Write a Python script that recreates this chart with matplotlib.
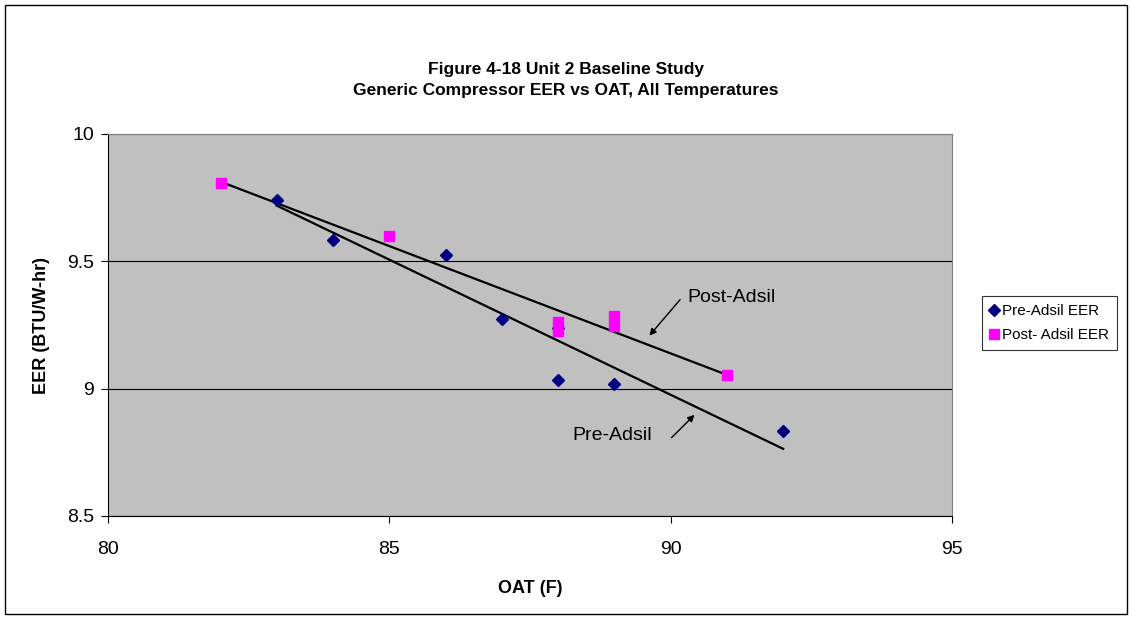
import numpy as np
import matplotlib
matplotlib.use('Agg')
import matplotlib.pyplot as plt
from matplotlib.patches import Rectangle

plt.rcParams['font.family'] = ['Liberation Sans', 'DejaVu Sans']

# Pre-Adsil data
pre_oat = [83, 84, 86, 87, 88, 88, 89, 92]
pre_eer = [9.74, 9.585, 9.523, 9.273, 9.035, 9.24, 9.017, 8.835]

# Post-Adsil data
post_oat = [82, 85, 88, 88, 89, 89, 91]
post_eer = [9.808, 9.60, 9.26, 9.228, 9.287, 9.248, 9.055]

xticks = [80, 85, 90, 95]
yticks = [8.5, 9, 9.5, 10]

fig = plt.figure(figsize=(11.32, 6.19), dpi=100)
ax = fig.add_axes([108/1132, 1-516/619, (952-108)/1132, (516-134)/619])
ax.set_facecolor('#C0C0C0')

# trend lines (linear fit over each series' range)
for xs, ys in [(pre_oat, pre_eer), (post_oat, post_eer)]:
    k, b = np.polyfit(xs, ys, 1)
    xx = np.array([min(xs), max(xs)])
    ax.plot(xx, k * xx + b, color='black', lw=1.6, zorder=3)

ax.plot(pre_oat, pre_eer, 'D', color='#000080', markersize=6.5, ls='none',
        label='Pre-Adsil EER', zorder=4)
ax.plot(post_oat, post_eer, 's', color='#FF00FF', markersize=7, ls='none',
        label='Post- Adsil EER', zorder=5)

ax.set_xlim(80, 95)
ax.set_ylim(8.5, 10)
ax.set_xticks(xticks)
ax.set_yticks(yticks)
ax.set_xticklabels(['80', '85', '90', '95'])
ax.set_yticklabels(['8.5', '9', '9.5', '10'])
ax.tick_params(direction='out', length=5, labelsize=14)
ax.tick_params(axis='x', pad=13)
ax.tick_params(axis='y', pad=5)
ax.yaxis.grid(True, color='black', lw=0.8)
ax.set_axisbelow(True)
for s in ['top', 'right']:
    ax.spines[s].set_color('#808080')

ax.set_xlabel('OAT (F)', fontsize=13, fontweight='bold', labelpad=16)
ax.set_ylabel('EER (BTU/W-hr)', fontsize=13, fontweight='bold', labelpad=12)

# annotations
ax.annotate('', xy=(89.59, 9.20), xytext=(90.2, 9.358),
            arrowprops=dict(arrowstyle='-|>', color='black', lw=1, mutation_scale=10))
ax.text(90.3, 9.358, 'Post-Adsil', fontsize=14, va='center', ha='left')
ax.annotate('', xy=(90.46, 8.905), xytext=(89.98, 8.80),
            arrowprops=dict(arrowstyle='-|>', color='black', lw=1, mutation_scale=10))
ax.text(88.26, 8.815, 'Pre-Adsil', fontsize=14, va='center', ha='left')

fig.text(0.5, 1-80/619, 'Figure 4-18 Unit 2 Baseline Study\nGeneric Compressor EER vs OAT, All Temperatures',
         ha='center', va='center', fontsize=12.5, fontweight='bold', linespacing=1.5)

leg = fig.legend(loc='center left', bbox_to_anchor=(980/1132, 1-323/619), fontsize=11,
                 frameon=True, fancybox=False, edgecolor='black', handlelength=0.6,
                 handletextpad=0.25, borderpad=0.5, borderaxespad=0.1, labelspacing=0.65,
                 markerscale=1.0)
leg.get_frame().set_linewidth(0.8)

fig.patches.append(Rectangle((5/1132, 5/619), 1-10/1132, 1-10/619, transform=fig.transFigure,
                             fill=False, edgecolor='black', lw=1))

fig.savefig('out.png', dpi=100)
